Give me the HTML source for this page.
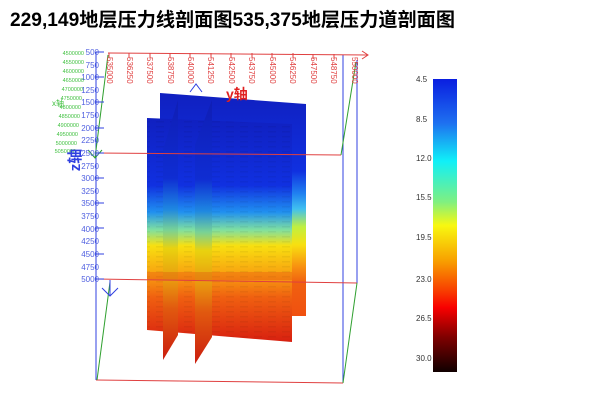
<!DOCTYPE html>
<html><head><meta charset="utf-8"><style>
body{margin:0;background:#fff;width:601px;height:403px;overflow:hidden}
svg{display:block}
</style></head><body>
<svg width="601" height="403" viewBox="0 0 601 403" xmlns="http://www.w3.org/2000/svg" font-family="Liberation Sans, Noto Sans CJK SC, sans-serif">
<defs>
<linearGradient id="cb" x1="0" y1="0" x2="0" y2="1">
<stop offset="0" stop-color="#0a1ee0"/><stop offset="0.15" stop-color="#1e70f0"/><stop offset="0.28" stop-color="#10f0f8"/><stop offset="0.42" stop-color="#80f080"/><stop offset="0.5" stop-color="#f8f810"/><stop offset="0.62" stop-color="#f8a000"/><stop offset="0.72" stop-color="#f84000"/><stop offset="0.78" stop-color="#f80000"/><stop offset="0.88" stop-color="#800000"/><stop offset="1" stop-color="#100000"/>
</linearGradient>
<linearGradient id="pb" x1="0" y1="0" x2="0" y2="1">
<stop offset="0" stop-color="#1020c0"/><stop offset="0.35" stop-color="#1030e0"/><stop offset="0.45" stop-color="#2080f0"/><stop offset="0.52" stop-color="#40c0f0"/><stop offset="0.6" stop-color="#c0f040"/><stop offset="0.68" stop-color="#f8e010"/><stop offset="0.78" stop-color="#f89010"/><stop offset="0.85" stop-color="#f06010"/><stop offset="1" stop-color="#f05010"/>
</linearGradient>
<linearGradient id="pf" x1="0" y1="0" x2="0" y2="1">
<stop offset="0" stop-color="#1020c0"/><stop offset="0.3" stop-color="#1030e0"/><stop offset="0.42" stop-color="#2090f0"/><stop offset="0.5" stop-color="#80e0a0"/><stop offset="0.57" stop-color="#f8e010"/><stop offset="0.7" stop-color="#f8a010"/><stop offset="0.8" stop-color="#f06010"/><stop offset="1" stop-color="#d82010"/>
</linearGradient>
<pattern id="st" width="14" height="5" patternUnits="userSpaceOnUse"><rect x="2" y="1" width="8" height="1.5" fill="#000" opacity="0.05"/></pattern>
</defs>
<text x="10" y="26" font-size="19" font-weight="bold" textLength="445" lengthAdjust="spacingAndGlyphs">229,149地层压力线剖面图535,375地层压力道剖面图</text>

<polygon points="160,93 306,104 306,316 160,316" fill="url(#pb)"/>
<polygon points="147,118 292,124 292,342 147,330" fill="url(#pf)"/>
<polygon points="147,118 292,124 292,342 147,330" fill="url(#st)"/>
<polygon points="163,150 178,100 178,335 163,360" fill="url(#pf)"/>
<polygon points="195,145 212,100 212,337 195,364" fill="url(#pf)"/>
<polygon points="163,150 178,100 178,335 163,360" fill="#000" opacity="0.06"/>
<polygon points="195,145 212,100 212,337 195,364" fill="#000" opacity="0.06"/>
<rect x="147" y="272" width="145" height="8" fill="#e03010" opacity="0.25"/>

<g fill="none" stroke-width="1">
<line x1="96" y1="52" x2="96" y2="380" stroke="#3040e0"/>
<line x1="343" y1="55" x2="343" y2="383" stroke="#3040e0"/>
<line x1="357" y1="60" x2="357" y2="283" stroke="#3040e0"/>
<line x1="96" y1="380" x2="343" y2="383" stroke="#e04040"/>
<line x1="96" y1="279" x2="357" y2="283" stroke="#e04040"/>
<line x1="96" y1="153" x2="341" y2="155" stroke="#e04040"/>
<line x1="108" y1="53" x2="368" y2="55" stroke="#e04040"/>
<polyline points="362,51 368,55 362,59" stroke="#e04040"/>
<line x1="110" y1="282" x2="97" y2="380" stroke="#30a030"/>
<line x1="357" y1="283" x2="343" y2="383" stroke="#30a030"/>
<line x1="108" y1="55" x2="95" y2="158" stroke="#30a030"/>
<line x1="356" y1="62" x2="341" y2="155" stroke="#30a030"/>
<polyline points="88,150 95,158 102,150" stroke="#30a030"/>
<polyline points="102,288 110,296 118,288" stroke="#3040e0"/>
<line x1="110" y1="280" x2="110" y2="296" stroke="#3040e0"/>
<polyline points="190,92 196,84 202,92" stroke="#3040e0"/>
</g>
<g stroke="#3040e0">
<line x1="96" y1="52" x2="104" y2="52"/><line x1="96" y1="77" x2="104" y2="77"/><line x1="96" y1="102" x2="104" y2="102"/><line x1="96" y1="128" x2="104" y2="128"/><line x1="96" y1="153" x2="104" y2="153"/><line x1="96" y1="178" x2="104" y2="178"/><line x1="96" y1="203" x2="104" y2="203"/><line x1="96" y1="228" x2="104" y2="228"/><line x1="96" y1="254" x2="104" y2="254"/><line x1="96" y1="279" x2="104" y2="279"/>
</g>
<g font-size="8" fill="#5060e0" text-anchor="end">
<text x="99" y="55">500</text><text x="99" y="68">750</text><text x="99" y="80">1000</text><text x="99" y="93">1250</text><text x="99" y="105">1500</text><text x="99" y="118">1750</text><text x="99" y="131">2000</text><text x="99" y="143">2250</text><text x="99" y="156">2500</text><text x="99" y="169">2750</text><text x="99" y="181">3000</text><text x="99" y="194">3250</text><text x="99" y="206">3500</text><text x="99" y="219">3750</text><text x="99" y="232">4000</text><text x="99" y="244">4250</text><text x="99" y="257">4500</text><text x="99" y="270">4750</text><text x="99" y="282">5000</text>
</g>
<g font-size="5.5" fill="#40c040" text-anchor="end">
<text x="84" y="55">4500000</text><text x="84" y="64">4550000</text><text x="84" y="73">4600000</text><text x="84" y="82">4650000</text><text x="83" y="91">4700000</text><text x="82" y="100">4750000</text><text x="81" y="109">4800000</text><text x="80" y="118">4850000</text><text x="79" y="127">4900000</text><text x="78" y="136">4950000</text><text x="77" y="145">5000000</text><text x="76" y="153">5050000</text>
</g>
<text x="52" y="106" font-size="8" fill="#40c040">x轴</text>
<text transform="translate(80,160) rotate(-90)" font-size="15" font-weight="bold" fill="#3040e0" text-anchor="middle">z轴</text>
<text x="226" y="99" font-size="14" fill="#e02020" font-weight="bold">y轴</text>
<g font-size="8" fill="#e04040">
<text transform="translate(107,57) rotate(90)">535000</text>
<text transform="translate(127,57) rotate(90)">536250</text>
<text transform="translate(147,57) rotate(90)">537500</text>
<text transform="translate(168,57) rotate(90)">538750</text>
<text transform="translate(188,57) rotate(90)">540000</text>
<text transform="translate(208,57) rotate(90)">541250</text>
<text transform="translate(229,57) rotate(90)">542500</text>
<text transform="translate(249,57) rotate(90)">543750</text>
<text transform="translate(270,57) rotate(90)">545000</text>
<text transform="translate(290,57) rotate(90)">546250</text>
<text transform="translate(311,57) rotate(90)">547500</text>
<text transform="translate(331,57) rotate(90)">548750</text>
<text transform="translate(352,57) rotate(90)">550000</text>
</g>
<g stroke="#e04040"><line x1="109" y1="53" x2="109" y2="58"/><line x1="129" y1="53" x2="129" y2="58"/><line x1="150" y1="53" x2="150" y2="58"/><line x1="170" y1="53" x2="170" y2="58"/><line x1="190" y1="53" x2="190" y2="58"/><line x1="211" y1="53" x2="211" y2="58"/><line x1="231" y1="53" x2="231" y2="58"/><line x1="252" y1="53" x2="252" y2="58"/><line x1="272" y1="53" x2="272" y2="58"/><line x1="293" y1="53" x2="293" y2="58"/><line x1="313" y1="54" x2="313" y2="59"/><line x1="334" y1="54" x2="334" y2="59"/></g>

<rect x="433" y="79" width="24" height="293" fill="url(#cb)"/>
<g font-size="8" fill="#333">
<text x="416" y="82">4.5</text><text x="416" y="122">8.5</text><text x="416" y="161">12.0</text><text x="416" y="200">15.5</text><text x="416" y="240">19.5</text><text x="416" y="282">23.0</text><text x="416" y="321">26.5</text><text x="416" y="361">30.0</text>
</g>
</svg>
</body></html>
